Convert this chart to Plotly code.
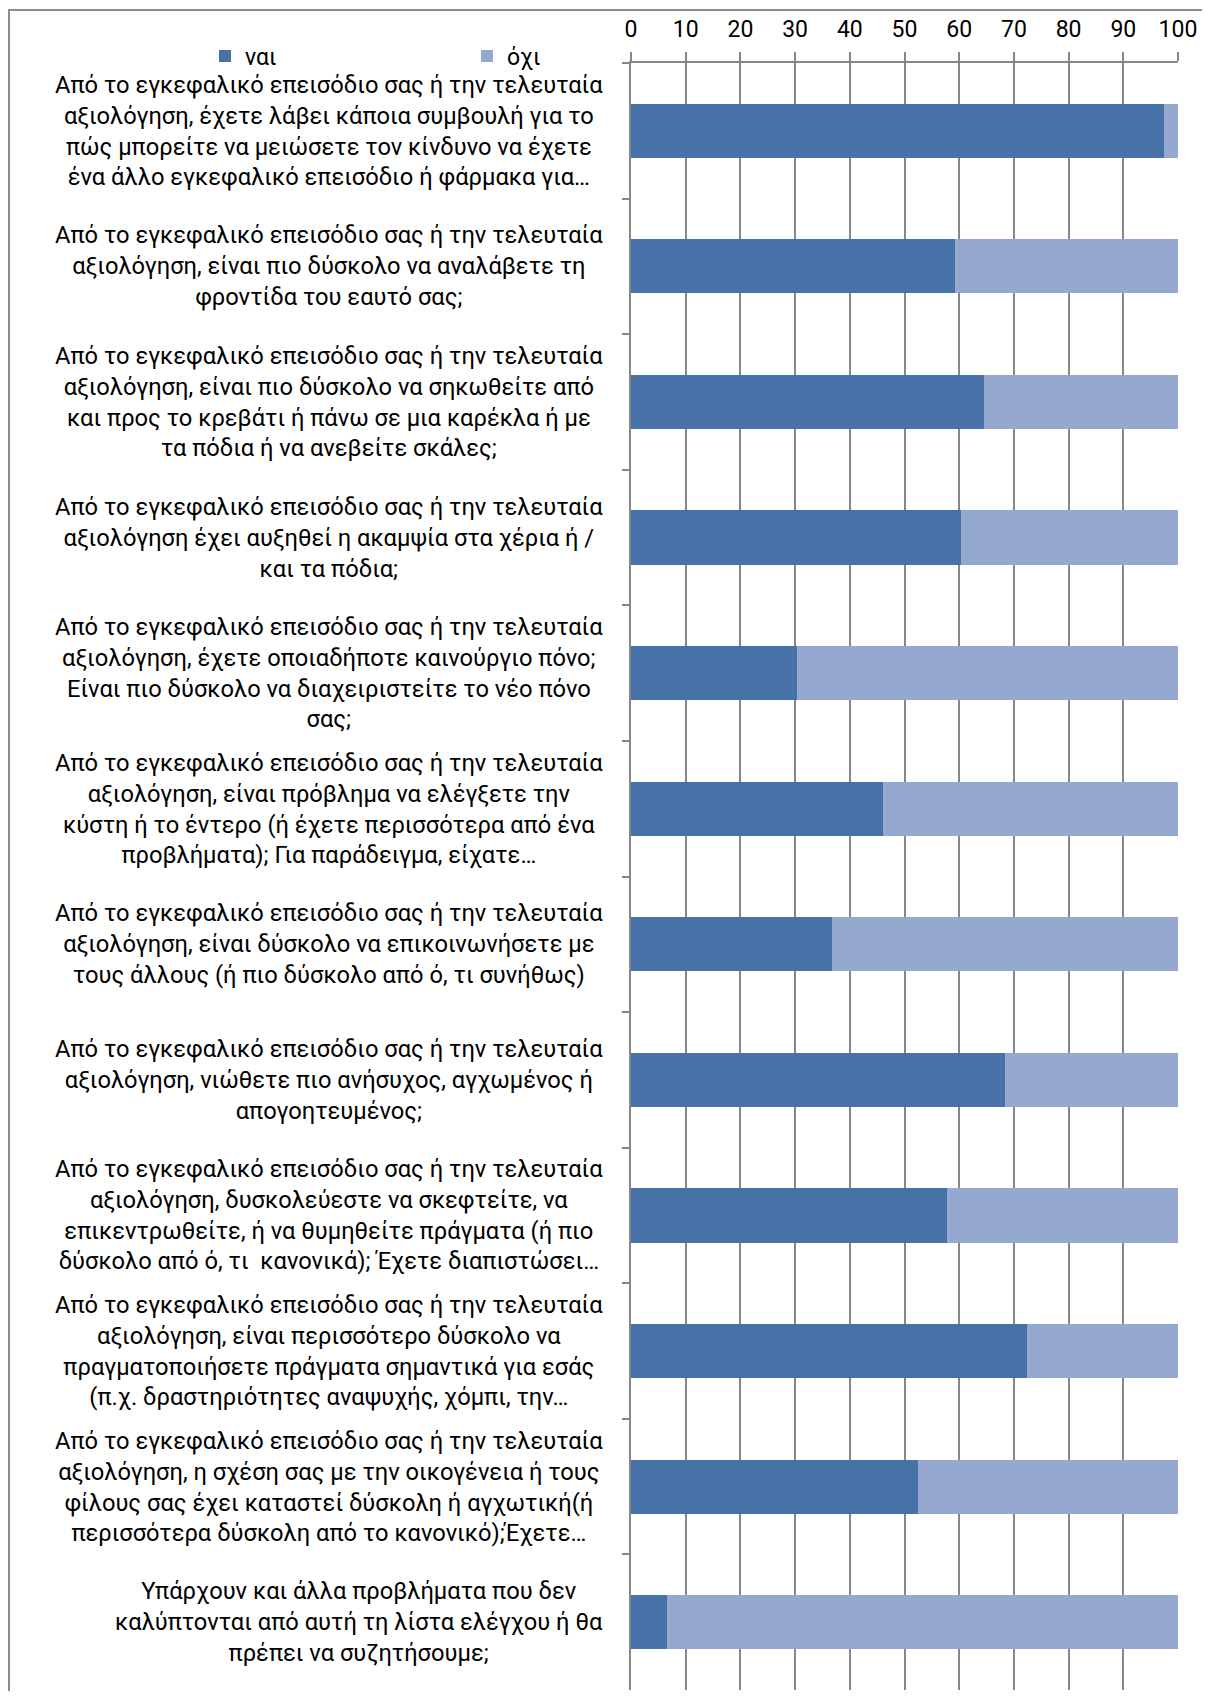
import plotly.graph_objects as go

categories = [
    "Από το εγκεφαλικό επεισόδιο σας ή την τελευταία<br>αξιολόγηση, έχετε λάβει κάποια συμβουλή για το<br>πώς μπορείτε να μειώσετε τον κίνδυνο να έχετε<br>ένα άλλο εγκεφαλικό επεισόδιο ή φάρμακα για…",
    "Από το εγκεφαλικό επεισόδιο σας ή την τελευταία<br>αξιολόγηση, είναι πιο δύσκολο να αναλάβετε τη<br>φροντίδα του εαυτό σας;",
    "Από το εγκεφαλικό επεισόδιο σας ή την τελευταία<br>αξιολόγηση, είναι πιο δύσκολο να σηκωθείτε από<br>και προς το κρεβάτι ή πάνω σε μια καρέκλα ή με<br>τα πόδια ή να ανεβείτε σκάλες;",
    "Από το εγκεφαλικό επεισόδιο σας ή την τελευταία<br>αξιολόγηση έχει αυξηθεί η ακαμψία στα χέρια ή /<br>και τα πόδια;",
    "Από το εγκεφαλικό επεισόδιο σας ή την τελευταία<br>αξιολόγηση, έχετε οποιαδήποτε καινούργιο πόνο;<br>Είναι πιο δύσκολο να διαχειριστείτε το νέο πόνο<br>σας;",
    "Από το εγκεφαλικό επεισόδιο σας ή την τελευταία<br>αξιολόγηση, είναι πρόβλημα να ελέγξετε την<br>κύστη ή το έντερο (ή έχετε περισσότερα από ένα<br>προβλήματα); Για παράδειγμα, είχατε…",
    "Από το εγκεφαλικό επεισόδιο σας ή την τελευταία<br>αξιολόγηση, είναι δύσκολο να επικοινωνήσετε με<br>τους άλλους (ή πιο δύσκολο από ό, τι συνήθως)",
    "Από το εγκεφαλικό επεισόδιο σας ή την τελευταία<br>αξιολόγηση, νιώθετε πιο ανήσυχος, αγχωμένος ή<br>απογοητευμένος;",
    "Από το εγκεφαλικό επεισόδιο σας ή την τελευταία<br>αξιολόγηση, δυσκολεύεστε να σκεφτείτε, να<br>επικεντρωθείτε, ή να θυμηθείτε πράγματα (ή πιο<br>δύσκολο από ό, τι  κανονικά); Έχετε διαπιστώσει…",
    "Από το εγκεφαλικό επεισόδιο σας ή την τελευταία<br>αξιολόγηση, είναι περισσότερο δύσκολο να<br>πραγματοποιήσετε πράγματα σημαντικά για εσάς<br>(π.χ. δραστηριότητες αναψυχής, χόμπι, την…",
    "Από το εγκεφαλικό επεισόδιο σας ή την τελευταία<br>αξιολόγηση, η σχέση σας με την οικογένεια ή τους<br>φίλους σας έχει καταστεί δύσκολη ή αγχωτική(ή<br>περισσότερα δύσκολη από το κανονικό);Έχετε…",
    "Υπάρχουν και άλλα προβλήματα που δεν<br>καλύπτονται από αυτή τη λίστα ελέγχου ή θα<br>πρέπει να συζητήσουμε;",
]

nai = [97.5, 59.2, 64.5, 60.4, 30.3, 46.0, 36.8, 68.4, 57.7, 72.4, 52.5, 6.5]
ochi = [2.5, 40.8, 35.5, 39.6, 69.7, 54.0, 63.2, 31.6, 42.3, 27.6, 47.5, 93.5]

series_names = ["ναι", "όχι"]
series_colors = ["#4672A8", "#95A9D0"]
x_ticks = [0, 10, 20, 30, 40, 50, 60, 70, 80, 90, 100]

FONT = "Roboto, 'Noto Sans', sans-serif"
GRID = "#878787"

fig = go.Figure()
for name, vals, col in zip(series_names, [nai, ochi], series_colors):
    fig.add_trace(go.Bar(
        y=categories, x=vals, name=name, orientation="h",
        marker=dict(color=col, line=dict(width=0)),
    ))

for c in categories:
    fig.add_annotation(
        x=0, xref="paper", y=c, yref="y", text=c, showarrow=False,
        xanchor="right", yanchor="middle", align="center", xshift=-26,
        font=dict(family=FONT, size=23.7, color="#000000"),
    )

# figure is offset by the page's 8px body margin
W, H = 1194, 1683
L, R, T, B = 623, 24, 55, 1
pw, ph = W - L - R, H - T - B

# outer chart frame
fig.add_shape(
    type="rect", xref="paper", yref="paper",
    x0=(1 - L) / pw, x1=(W + 10 - L) / pw,
    y0=(H - B - (H + 10)) / ph, y1=(H - B - 2) / ph,
    line=dict(color="#8c8c8c", width=2), fillcolor="rgba(0,0,0,0)", layer="below",
)

fig.update_layout(
    width=W, height=H,
    margin=dict(l=L, r=R, t=T, b=B, pad=0),
    barmode="stack", bargap=0.6,
    plot_bgcolor="white", paper_bgcolor="white",
    font=dict(family=FONT, size=23, color="#000000"),
    showlegend=True,
    legend=dict(
        orientation="h", x=(197 - L) / pw, xanchor="left",
        y=(H - B - 48) / ph, yanchor="middle",
        entrywidth=217, entrywidthmode="pixels",
        itemwidth=30, font=dict(family=FONT, size=23, color="#000000"),
        bgcolor="rgba(0,0,0,0)", traceorder="normal", tracegroupgap=0,
    ),
    xaxis=dict(
        side="top", range=[0, 100], tickvals=x_ticks,
        ticktext=[str(v) for v in x_ticks],
        showgrid=True, gridcolor=GRID, gridwidth=1.5,
        showline=True, linecolor=GRID, linewidth=1.5,
        ticks="outside", ticklen=9, tickcolor=GRID, tickwidth=1.5,
        ticklabelstandoff=6,
        tickfont=dict(family=FONT, size=23, color="#000000"),
        zeroline=False, fixedrange=True,
    ),
    yaxis=dict(
        autorange="reversed", showticklabels=False,
        showline=True, linecolor=GRID, linewidth=1.5,
        ticks="outside", tickson="boundaries", ticklen=7,
        tickcolor=GRID, tickwidth=1.5, showgrid=False, zeroline=False,
    ),
)

fig.write_html("out.html")
